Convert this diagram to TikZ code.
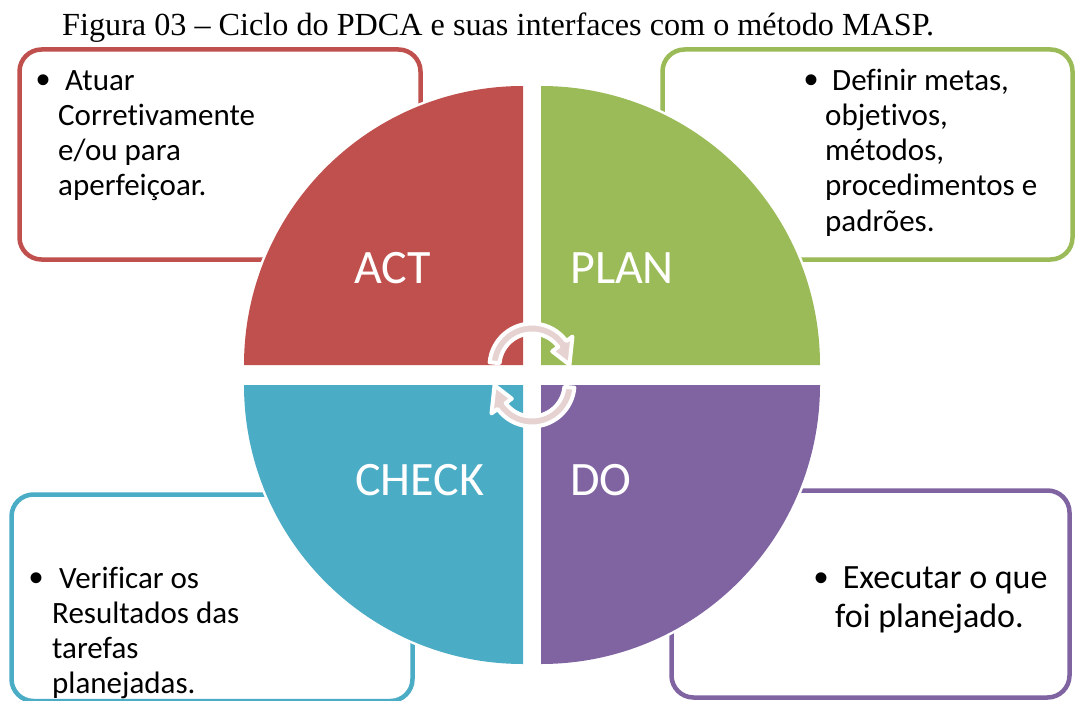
\documentclass[tikz,border=0pt]{standalone}
\usepackage{fontspec}
\setmainfont{Carlito}[Ligatures=NoCommon]
\newfontfamily\titlefont{Liberation Serif}
\newfontfamily\bulfont{Liberation Sans}
\definecolor{actc}{HTML}{C0504D}
\definecolor{planc}{HTML}{9BBB59}
\definecolor{checkc}{HTML}{4BACC6}
\definecolor{doc}{HTML}{8064A2}
\definecolor{arrowc}{RGB}{231,210,210}
\newcommand{\bul}[1]{\makebox[#1][l]{\raisebox{-3pt}{\bulfont\fontsize{40}{40}\selectfont •}}}
\tikzset{
  box/.style={line width=4.5pt, rounded corners=22pt},
  quad/.style={preaction={draw=white, line width=5pt}},
  lbl/.style={text=white, font=\fontsize{48}{58}\selectfont, anchor=base west, inner sep=0pt},
  txt/.style={anchor=base west, inner sep=0pt, font=\fontsize{31}{35.3}\selectfont},
  txtbig/.style={anchor=base west, inner sep=0pt, font=\fontsize{34}{39}\selectfont},
  cyc/.style={fill=arrowc, draw=white, line width=4pt, line join=round},
}
\begin{document}
\begin{tikzpicture}[x=1pt,y=-1pt]
\fill[white] (0,0) rectangle (1076,701);
\useasboundingbox (0,0) rectangle (1076,701);

% title
\node[anchor=base west, inner sep=0pt, font=\titlefont\fontsize{32.2}{38}\selectfont] (title) at (62,36)
  {Figura 03 – Ciclo do PDCA e suas interfaces com o método MASP.};

% boxes
\draw[box, actc]   (19.5,49.5)  rectangle (420.5,259.5);
\draw[box, planc]  (662.5,49.5) rectangle (1072.5,259.5);
\draw[box, checkc] (11.5,494.5) rectangle (412.5,701);
\draw[box, doc]    (671.5,490.5) rectangle (1069.5,697.5);

% quadrants
\fill[actc, quad]   (523,365) -- ++(180:279pt) arc[start angle=180, end angle=90, radius=279pt] -- cycle;
\fill[planc, quad]  (541,365) -- ++(90:279pt)  arc[start angle=90, end angle=0, radius=279pt] -- cycle;
\fill[checkc, quad] (523,385) -- ++(180:279pt) arc[start angle=180, end angle=270, radius=279pt] -- cycle;
\fill[doc, quad]    (541,385) -- ++(0:279pt)   arc[start angle=0, end angle=-90, radius=279pt] -- cycle;

% quadrant labels
\node[lbl] (act)   at (354,283) {ACT};
\node[lbl] (plan)  at (570,283) {PLAN};
\node[lbl] (check) at (355,495) {CHECK};
\node[lbl] (do)    at (570,495) {DO};

% cycle arrows
\begin{scope}[shift={(532,366)}]
\path[cyc] (175:42.5pt) arc[start angle=175, end angle=36, radius=42.5pt]
  -- (36:50pt) -- (2:37.5pt) -- (36:25pt) -- (36:32.5pt)
  arc[start angle=36, end angle=175, radius=32.5pt] -- cycle;
\end{scope}
\begin{scope}[shift={(532,384)}, rotate=180]
\path[cyc] (175:42.5pt) arc[start angle=175, end angle=36, radius=42.5pt]
  -- (36:50pt) -- (2:37.5pt) -- (36:25pt) -- (36:32.5pt)
  arc[start angle=36, end angle=175, radius=32.5pt] -- cycle;
\end{scope}

% box texts
\node[txt] (acttxt) at (36,90) {\begin{tabular}[t]{@{}l@{}l@{}}\bul{22pt} & \ Atuar\\ & Corretivamente\\ & e/ou para\\ & aperfeiçoar.\end{tabular}};
\node[txt] (plantxt) at (804,90) {\begin{tabular}[t]{@{}l@{}l@{}}\bul{21pt} & \ Definir metas,\\ & objetivos,\\ & métodos,\\ & procedimentos e\\ & padrões.\end{tabular}};
\node[txt] (checktxt) at (29,588) {\begin{tabular}[t]{@{}l@{}l@{}}\bul{23pt} & \ Verificar os\\ & Resultados das\\ & tarefas\\ & planejadas.\end{tabular}};
\node[txtbig] (dotxt) at (814,588) {\begin{tabular}[t]{@{}l@{}l@{}}\bul{21pt} & \ Executar o que\\ & foi planejado.\end{tabular}};
\end{tikzpicture}
\end{document}
